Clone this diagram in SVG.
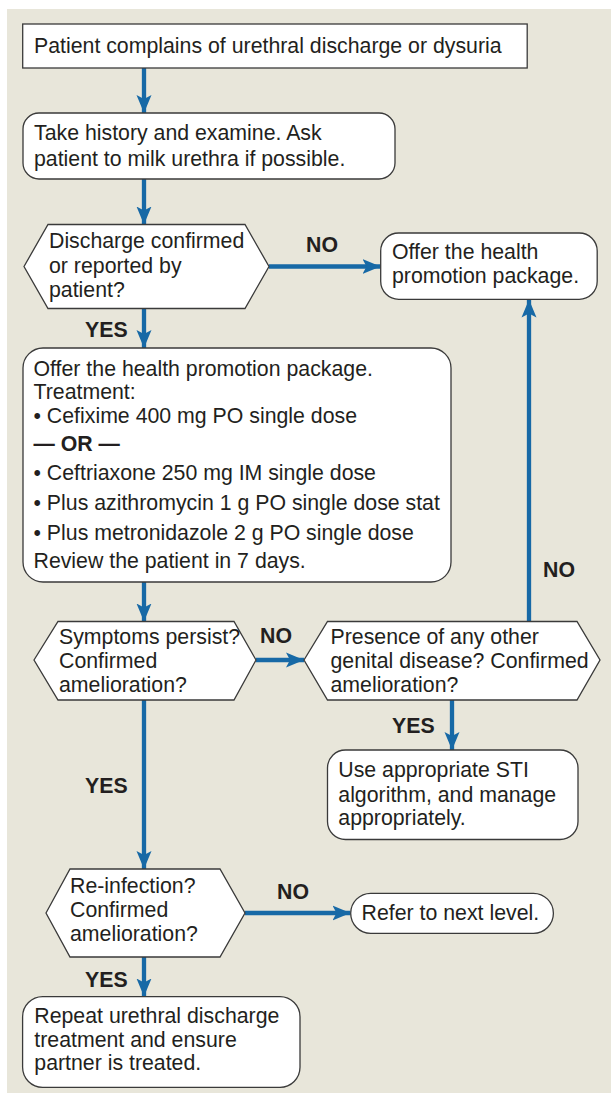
<svg xmlns="http://www.w3.org/2000/svg" width="611" height="1094" viewBox="0 0 611 1094">
<style>
.bg{fill:#e8e6da}
.node{fill:#ffffff;stroke:#3a3a3a;stroke-width:1.3}
.t{font-family:"Liberation Sans",Arial,sans-serif;font-size:21.3px;fill:#231f20}
.lbl{font-family:"Liberation Sans",Arial,sans-serif;font-size:21.3px;font-weight:bold;fill:#231f20}
.c{stroke:#1769a6;stroke-width:4.3;fill:none;marker-end:url(#ah)}
</style>
<defs>
<marker id="ah" markerUnits="userSpaceOnUse" markerWidth="20" markerHeight="18" refX="18" refY="8" orient="auto" viewBox="0 0 20 16">
<path d="M18,8 L0,0.5 L4,8 L0,15.5 Z" fill="#1769a6"/>
</marker>
</defs>
<rect class="bg" x="7" y="9" width="604" height="1084"/>

<g id="connectors">
<line class="c" x1="144" y1="68" x2="144" y2="113"/>
<line class="c" x1="144" y1="179" x2="144" y2="224.5"/>
<line class="c" x1="269" y1="266.5" x2="380.5" y2="266.5"/>
<line class="c" x1="144" y1="308.5" x2="144" y2="348"/>
<line class="c" x1="144" y1="582" x2="144" y2="621.5"/>
<line class="c" x1="256" y1="660" x2="304" y2="660"/>
<line class="c" x1="144" y1="700" x2="144" y2="869"/>
<line class="c" x1="452" y1="700" x2="452" y2="750"/>
<line class="c" x1="529" y1="621.5" x2="529" y2="299.5"/>
<line class="c" x1="245" y1="913" x2="350.5" y2="913"/>
<line class="c" x1="144" y1="957" x2="144" y2="996.5"/>
<text class="lbl" x="306" y="252">NO</text>
<text class="lbl" x="85" y="337">YES</text>
<text class="lbl" x="260" y="643">NO</text>
<text class="lbl" x="543" y="577">NO</text>
<text class="lbl" x="392" y="733">YES</text>
<text class="lbl" x="85" y="793">YES</text>
<text class="lbl" x="277" y="899">NO</text>
<text class="lbl" x="85" y="987">YES</text>
</g>

<g id="n1">
<rect class="node" x="22.7" y="24" width="504.5" height="44"/>
<text class="t" x="34" y="53.3">Patient complains of urethral discharge or dysuria</text>
</g>

<g id="n2">
<rect class="node" x="23" y="113" width="372" height="66" rx="16"/>
<text class="t" x="34" y="140">Take history and examine. Ask</text>
<text class="t" x="34" y="165.5">patient to milk urethra if possible.</text>
</g>

<g id="n3">
<polygon class="node" points="24,266.5 48,224.5 245,224.5 269,266.5 245,308.5 48,308.5"/>
<text class="t" x="49" y="248">Discharge confirmed</text>
<text class="t" x="49" y="272.5">or reported by</text>
<text class="t" x="49" y="296.5">patient?</text>
</g>

<g id="n4">
<rect class="node" x="380.7" y="233" width="216.5" height="66.3" rx="18"/>
<text class="t" x="392" y="259">Offer the health</text>
<text class="t" x="392" y="283">promotion package.</text>
</g>

<g id="n5">
<rect class="node" x="23" y="348" width="428" height="234" rx="20"/>
<text class="t" x="33.5" y="376">Offer the health promotion package.</text>
<text class="t" x="33.5" y="398.5">Treatment:</text>
<text class="t" x="33.5" y="422.5">• Cefixime 400 mg PO single dose</text>
<text class="lbl" x="33.5" y="451">— OR —</text>
<text class="t" x="33.5" y="480">• Ceftriaxone 250 mg IM single dose</text>
<text class="t" x="33.5" y="510">• Plus azithromycin 1 g PO single dose stat</text>
<text class="t" x="33.5" y="539.5">• Plus metronidazole 2 g PO single dose</text>
<text class="t" x="33.5" y="567.5">Review the patient in 7 days.</text>
</g>

<g id="n6">
<polygon class="node" points="34,660 58,621.5 234,621.5 256,660 234,700 58,700"/>
<text class="t" x="59" y="644">Symptoms persist?</text>
<text class="t" x="59" y="668.3">Confirmed</text>
<text class="t" x="59" y="691.7">amelioration?</text>
</g>

<g id="n7">
<polygon class="node" points="304,660 327.5,621.5 577,621.5 600,660 577,700 327.5,700"/>
<text class="t" x="330.5" y="644">Presence of any other</text>
<text class="t" x="330.5" y="668.3">genital disease? Confirmed</text>
<text class="t" x="330.5" y="691.7">amelioration?</text>
</g>

<g id="n8">
<rect class="node" x="327.5" y="750" width="250.5" height="89.5" rx="18"/>
<text class="t" x="338.3" y="776.7">Use appropriate STI</text>
<text class="t" x="338.3" y="801.7">algorithm, and manage</text>
<text class="t" x="338.3" y="825">appropriately.</text>
</g>

<g id="n9">
<polygon class="node" points="46,913 70,869 220,869 245,913 220,957 70,957"/>
<text class="t" x="70" y="893.3">Re-infection?</text>
<text class="t" x="70" y="917.3">Confirmed</text>
<text class="t" x="70" y="940.7">amelioration?</text>
</g>

<g id="n10">
<rect class="node" x="350.7" y="893.3" width="202.7" height="40" rx="20"/>
<text class="t" x="361.6" y="920">Refer to next level.</text>
</g>

<g id="n11">
<rect class="node" x="22.6" y="996.7" width="277.4" height="90.6" rx="20"/>
<text class="t" x="34.3" y="1022.7">Repeat urethral discharge</text>
<text class="t" x="34.3" y="1046.7">treatment and ensure</text>
<text class="t" x="34.3" y="1070">partner is treated.</text>
</g>
</svg>
